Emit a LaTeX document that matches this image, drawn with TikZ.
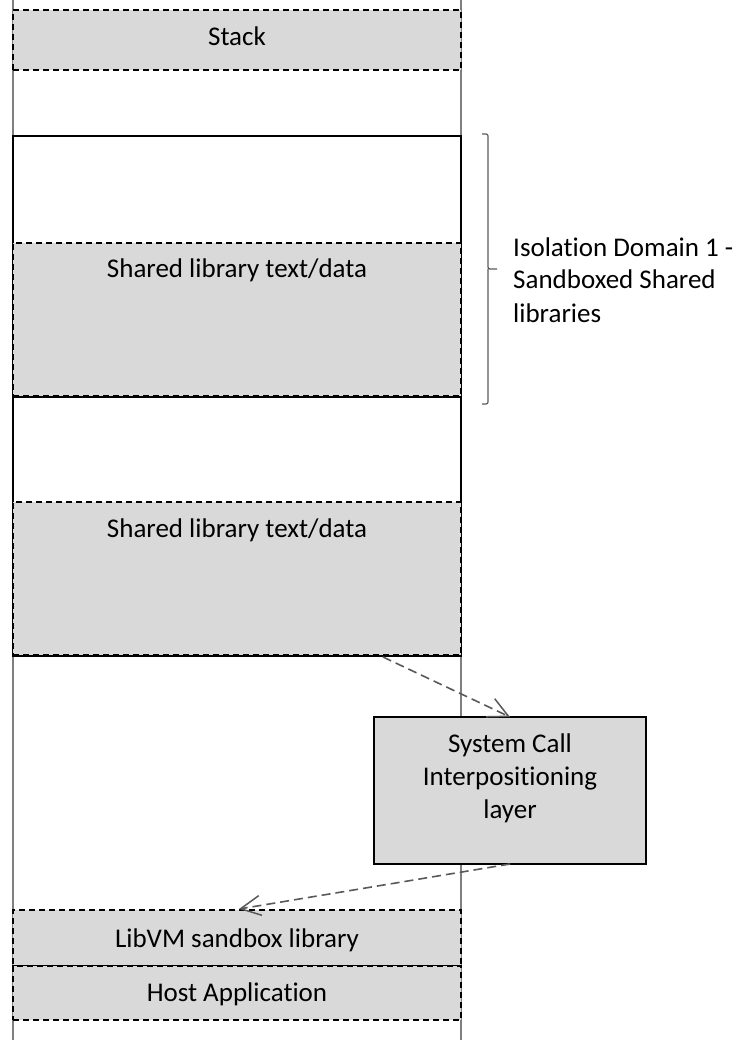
\documentclass[tikz,border=0pt]{standalone}
\usepackage{fontspec}
\setmainfont{Carlito}[Ligatures=NoCommon]
\usetikzlibrary{arrows.meta}
\definecolor{boxgrey}{HTML}{D9D9D9}
\definecolor{railgrey}{HTML}{7F7F7F}
\definecolor{arrowgrey}{HTML}{595959}

\begin{document}
\begin{tikzpicture}[x=1pt,y=-1pt,
  area/.style={rectangle, inner sep=0pt, outer sep=0pt},
  region/.style={area, draw=black, line width=1.8pt, dash pattern=on 6pt off 4pt, fill=boxgrey},
  isolbox/.style={area, draw=black, line width=2.5pt},
  solidbox/.style={area, draw=black, line width=2pt, fill=boxgrey},
  lbl/.style={font=\fontsize{27}{33}\selectfont, inner sep=0pt, anchor=base},
  flow/.style={draw=arrowgrey, line width=1.6pt, dash pattern=on 9pt off 5pt,
    -{Straight Barb[length=20pt,width=20pt,line width=1.5pt]}},
  rail/.style={draw=railgrey, line width=1.4pt}]

\useasboundingbox (0,0) rectangle (736,1040);

% address-space rails
\draw[rail] (13,0) -- (13,1040);
\draw[rail] (461,0) -- (461,1040);

% stack
\node[region, minimum width=448pt, minimum height=60pt] (stack) at (237,40) {};
\node[lbl] (stacktxt) at (237,46) {Stack};

% first isolation domain
\node[isolbox, fill=white, minimum width=448pt, minimum height=261pt] (dom1) at (237,266.5) {};
\node[region, minimum width=448pt, minimum height=153pt] (lib1) at (237,319.5) {};
\node[lbl] (lib1txt) at (237,278) {Shared library text/data};

% second isolation domain
\node[isolbox, fill=white, minimum width=448pt, minimum height=259pt] (dom2) at (237,526.5) {};
\node[region, minimum width=448pt, minimum height=153pt] (lib2) at (237,578.5) {};
\node[lbl] (lib2txt) at (237,537) {Shared library text/data};

% brace and caption for the sandboxed libraries
\draw[draw=arrowgrey, line width=1.2pt, rounded corners=2pt]
  (482,134) -| (488,269) -- (497,269)
  (488,269) |- (482,404);
\node[lbl, anchor=base west, align=left] (domaintxt) at (513,322)
  {Isolation Domain 1 -\\Sandboxed Shared\\libraries};

% system call layer
\node[solidbox, minimum width=272pt, minimum height=147pt] (sys) at (510,790.5) {};
\node[lbl, align=center] (systxt) at (510,818) {System Call\\Interpositioning\\layer};

% libvm and host
\node[region, minimum width=448pt, minimum height=56pt] (libvm) at (237,938) {};
\node[lbl] (libvmtxt) at (237,947) {LibVM sandbox library};
\node[region, minimum width=448pt, minimum height=54pt] (host) at (237,993) {};
\node[lbl] (hosttxt) at (237,1001) {Host Application};

% calls
\coordinate (callsrc) at (383,657);
\coordinate (callin) at (239,909);
\draw[flow] (callsrc) -- (sys.north);
\draw[flow] (sys.south) -- (callin);
\end{tikzpicture}
\end{document}
